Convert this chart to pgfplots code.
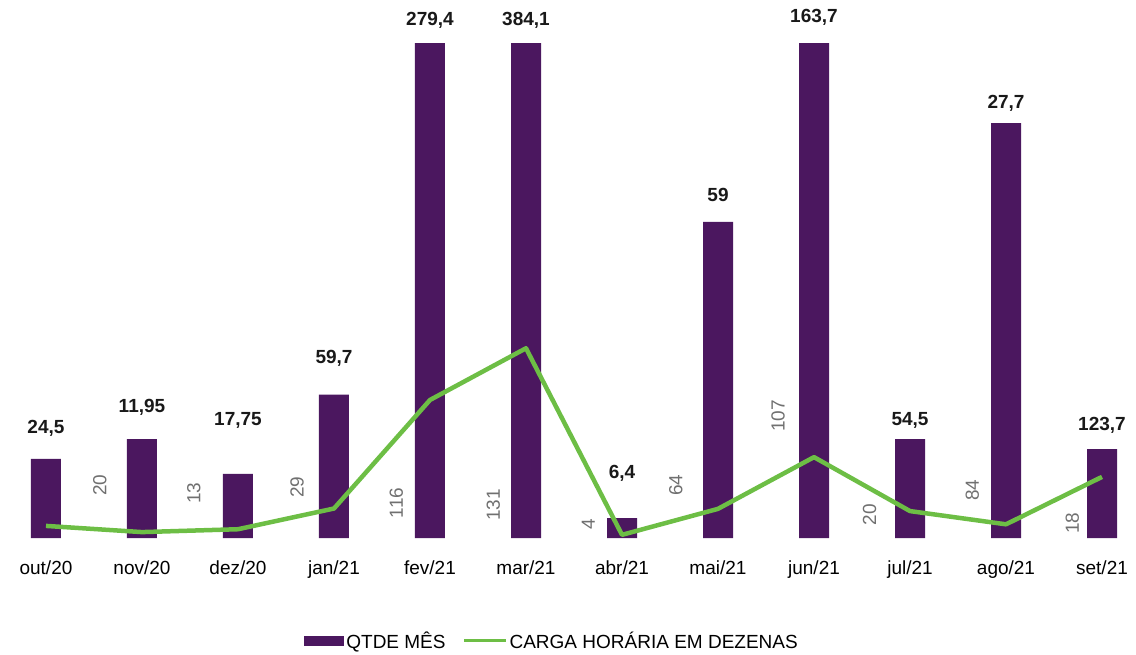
\documentclass[border=0pt]{standalone}
\usepackage{pgfplots}
\pgfplotsset{compat=1.18}
\usepackage{fontspec}
\setmainfont{Liberation Sans}

\definecolor{barcol}{HTML}{4B175F}
\definecolor{linecol}{HTML}{6DBE45}
\definecolor{numgray}{HTML}{707070}

\newcommand{\lbl}{\fontsize{19}{22}\selectfont}

\begin{document}
\begin{tikzpicture}
\useasboundingbox (0pt,0pt) rectangle (1136pt,654pt);
\begin{axis}[
    at={(0pt,116pt)}, anchor=south west,
    width=1136pt, height=494pt, scale only axis,
    xmin=-0.479, xmax=11.354,
    ymin=0, ymax=100,
    clip mode=individual,
    axis line style={draw=none},
    major tick length=0pt,
    ytick=\empty,
    xtick={0,...,11},
    xticklabels={out/20,nov/20,dez/20,jan/21,fev/21,mar/21,abr/21,mai/21,jun/21,jul/21,ago/21,set/21},
    xticklabel style={font=\lbl, text=black, anchor=base, yshift=-36pt},
    legend style={at={(0.486,-0.208)}, anchor=center, draw=none,
        font=\lbl, legend columns=2, inner sep=1pt,
        /tikz/every even column/.append style={column sep=15pt}},
    ]
    % QTDE MES
    \addplot[ybar, bar width=30pt, fill=barcol, draw=none,
        legend image code/.code={\fill[barcol] (0pt,-5pt) rectangle (40pt,5pt);}]
    coordinates {
        (0,16)(1,20)(2,13)(3,29)(4,116)(5,131)(6,4)(7,64)(8,107)(9,20)(10,84)(11,18)
    };
    \addlegendentry{QTDE MÊS}
    % carga horaria em dezenas
    \addplot[linecol, line width=4.5pt, line join=round, mark=none,
        legend image code/.code={\draw[linecol, line width=3pt] (0pt,0pt) -- (42pt,0pt);}]
    coordinates {
        (0,2.45)(1,1.195)(2,1.775)(3,5.97)(4,27.94)(5,38.41)(6,0.64)(7,5.9)(8,16.37)(9,5.45)(10,2.77)(11,12.37)
    };
    \addlegendentry{CARGA HORÁRIA EM DEZENAS}

    % bold labels
    \begin{scope}[every node/.style={font=\lbl\bfseries, text=black!90}]
    \node at (axis cs:0,22.3) {24,5};
    \node at (axis cs:1,26.5) {11,95};
    \node at (axis cs:2,23.9) {17,75};
    \node at (axis cs:3,36.4) {59,7};
    \node at (axis cs:4,104.7) {279,4};
    \node at (axis cs:5,104.7) {384,1};
    \node at (axis cs:6,13.0) {6,4};
    \node at (axis cs:7,69.4) {59};
    \node at (axis cs:8,105.4) {163,7};
    \node at (axis cs:9,23.9) {54,5};
    \node at (axis cs:10,87.9) {27,7};
    \node at (axis cs:11,22.9) {123,7};
    \end{scope}

    % gray rotated labels
    \begin{scope}[every node/.style={font=\lbl, text=numgray, rotate=90}]
    \node at (axis cs:0.56,10.7) {20};
    \node at (axis cs:1.54,9.1) {13};
    \node at (axis cs:2.615,10.3) {29};
    \node at (axis cs:3.65,7.1) {116};
    \node at (axis cs:4.66,6.7) {131};
    \node at (axis cs:5.65,2.8) {4};
    \node at (axis cs:6.56,10.7) {64};
    \node at (axis cs:7.625,24.7) {107};
    \node at (axis cs:8.58,4.7) {20};
    \node at (axis cs:9.65,9.7) {84};
    \node at (axis cs:10.69,3.0) {18};
    \end{scope}
\end{axis}
\end{tikzpicture}
\end{document}
